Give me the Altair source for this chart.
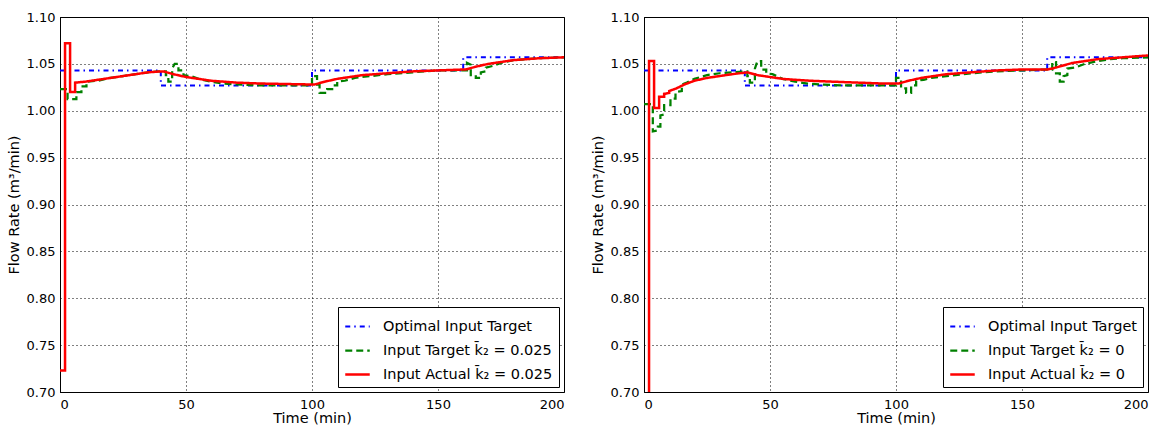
import altair as alt
import pandas as pd

# ---------------- data ----------------
OPT_T = [0, 40, 40, 100, 100, 160, 160, 200]
OPT_V = [1.043, 1.043, 1.027, 1.027, 1.043, 1.043, 1.057, 1.057]

# left panel (k2 = 0.025)
TGT_L_T = [0, 3, 3, 6.5, 6.5, 8.5, 8.5, 10.5, 10.5, 15, 20, 25, 30, 35, 40, 42, 42, 43, 43, 44.5, 44.5, 45.5, 47, 47, 49, 49,
           52, 55, 60, 65, 70, 80, 90, 100, 100, 102, 102, 103, 103, 106, 106, 108, 108, 110, 110, 113, 117, 120, 130, 140,
           150, 160, 161.5, 161.5, 163, 163, 165, 165, 167, 167, 169, 169, 172, 175, 180, 190, 200]
TGT_L_V = [1.023, 1.023, 1.0125, 1.0125, 1.020, 1.020, 1.026, 1.026, 1.031, 1.032, 1.035, 1.037, 1.039, 1.041, 1.042, 1.042,
           1.038, 1.038, 1.031, 1.031, 1.045, 1.050, 1.050, 1.043, 1.043, 1.038, 1.037, 1.034, 1.031, 1.029, 1.028, 1.027,
           1.027, 1.027, 1.037, 1.037, 1.028, 1.028, 1.019, 1.019, 1.023, 1.023, 1.027, 1.027, 1.031, 1.032, 1.035, 1.036,
           1.039, 1.041, 1.043, 1.043, 1.043, 1.051, 1.049, 1.038, 1.038, 1.035, 1.035, 1.041, 1.042, 1.046, 1.048, 1.051,
           1.054, 1.056, 1.057]
ACT_L_T = [0, 2, 2, 4, 4, 6, 6, 10, 15, 20, 25, 30, 35, 40, 41, 45, 50, 55, 60, 70, 80, 90, 100, 101, 105, 110, 115, 120,
           130, 140, 150, 160, 161, 165, 170, 175, 180, 190, 200]
ACT_L_V = [0.723, 0.723, 1.072, 1.072, 1.020, 1.020, 1.030, 1.031, 1.033, 1.035, 1.037, 1.039, 1.041, 1.042, 1.042, 1.039,
           1.036, 1.034, 1.032, 1.030, 1.029, 1.0285, 1.028, 1.028, 1.031, 1.034, 1.036, 1.038, 1.040, 1.042, 1.043, 1.044,
           1.044, 1.047, 1.050, 1.052, 1.054, 1.056, 1.057]

# right panel (k2 = 0)
TGT_R_T = [0, 3.5, 3.5, 5.5, 5.5, 6.5, 6.5, 8, 8, 10.5, 10.5, 12.5, 12.5, 15, 15, 17, 20, 25, 30, 35, 41, 41, 42, 42, 44,
           44, 45, 46.5, 46.5, 48.5, 48.5, 51, 55, 60, 65, 70, 80, 100, 100, 102, 102, 104, 104, 106, 106, 108, 108, 111,
           114, 120, 130, 140, 150, 160, 162, 162, 163.5, 163.5, 165, 165, 166.5, 166.5, 168, 168, 171, 175, 180, 185,
           190, 200]
TGT_R_V = [1.007, 1.007, 0.978, 0.979, 0.983, 0.983, 0.995, 0.996, 1.006, 1.006, 1.013, 1.013, 1.020, 1.021, 1.028, 1.030,
           1.034, 1.038, 1.040, 1.041, 1.042, 1.037, 1.037, 1.030, 1.030, 1.045, 1.053, 1.053, 1.044, 1.044, 1.040, 1.039,
           1.034, 1.031, 1.029, 1.028, 1.027, 1.027, 1.035, 1.035, 1.024, 1.024, 1.019, 1.019, 1.027, 1.027, 1.032, 1.033,
           1.035, 1.037, 1.040, 1.042, 1.043, 1.044, 1.044, 1.052, 1.052, 1.040, 1.040, 1.031, 1.031, 1.037, 1.038, 1.045,
           1.046, 1.050, 1.053, 1.055, 1.056, 1.057]
ACT_R_T = [0, 2, 2, 4, 4, 6, 6, 8, 8, 10, 10, 13, 16, 20, 25, 30, 35, 41, 45, 50, 55, 60, 66, 75, 85, 95, 101, 105, 110,
           115, 120, 130, 140, 150, 160, 162, 166, 170, 175, 180, 190, 200]
ACT_R_V = [0.60, 0.60, 1.053, 1.053, 1.003, 1.003, 1.015, 1.015, 1.018, 1.019, 1.021, 1.024, 1.028, 1.032, 1.035, 1.037,
           1.039, 1.041, 1.038, 1.036, 1.034, 1.033, 1.032, 1.031, 1.030, 1.029, 1.029, 1.032, 1.035, 1.037, 1.039, 1.041,
           1.043, 1.044, 1.044, 1.045, 1.048, 1.051, 1.053, 1.055, 1.057, 1.059]

KBAR = "k\u0304\u2082"
NAMES_L = ["Optimal Input Target", f"Input Target {KBAR} = 0.025", f"Input Actual {KBAR} = 0.025"]
NAMES_R = ["Optimal Input Target", f"Input Target {KBAR} = 0", f"Input Actual {KBAR} = 0"]
X_TICKS = [0, 50, 100, 150, 200]
Y_TICKS = [0.70, 0.75, 0.80, 0.85, 0.90, 0.95, 1.00, 1.05, 1.10]

COLORS = ["#0000ff", "#008000", "#ff0000"]
DASHES = [[5, 4, 1.5, 4], [7, 4], [1, 0]]
WIDTHS = [2, 2.5, 3]


def frame(names, series):
    rows = []
    for name, (ts, vs) in zip(names, series):
        for i, (t, v) in enumerate(zip(ts, vs)):
            rows.append({"t": t, "v": v, "series": name, "i": i})
    return pd.DataFrame(rows)


def panel(names, series):
    df = frame(names, series)
    layers = []
    for name in names:
        layers.append(
            alt.Chart(df)
            .transform_filter(alt.datum.series == name)
            .mark_line(clip=True)
            .encode(
                x=alt.X("t:Q", title="Time (min)",
                        scale=alt.Scale(domain=[0, 200], nice=False),
                        axis=alt.Axis(values=X_TICKS, format="d")),
                y=alt.Y("v:Q", title="Flow Rate  (m³/min)",
                        scale=alt.Scale(domain=[0.70, 1.10], nice=False, zero=False),
                        axis=alt.Axis(values=Y_TICKS, format=".2f")),
                color=alt.Color("series:N", scale=alt.Scale(domain=names, range=COLORS),
                                legend=alt.Legend(title=None)),
                strokeDash=alt.StrokeDash("series:N", scale=alt.Scale(domain=names, range=DASHES),
                                          legend=alt.Legend(title=None)),
                strokeWidth=alt.StrokeWidth("series:N", scale=alt.Scale(domain=names, range=WIDTHS),
                                            legend=None),
                order="i:Q",
            )
        )
    return alt.layer(*layers).properties(width=504, height=375)


left = panel(NAMES_L, [(OPT_T, OPT_V), (TGT_L_T, TGT_L_V), (ACT_L_T, ACT_L_V)])
right = panel(NAMES_R, [(OPT_T, OPT_V), (TGT_R_T, TGT_R_V), (ACT_R_T, ACT_R_V)])

chart = (
    alt.hconcat(left, right, spacing=24)
    .resolve_scale(color="independent", strokeDash="independent", strokeWidth="independent")
    .properties(padding={"left": 5, "top": 10, "right": 5, "bottom": 5}, background="white")
    .configure_view(stroke="black", strokeWidth=1)
    .configure_axis(
        labelFont="DejaVu Sans", titleFont="DejaVu Sans", labelFontSize=13, titleFontSize=14.5,
        titleFontWeight="normal", labelColor="black", titleColor="black",
        domainColor="black", domainWidth=1, ticks=False,
        gridColor="black", gridDash=[1, 3], gridOpacity=1, gridWidth=1,
    )
    .configure_axisY(labelPadding=5, titlePadding=5)
    .configure_axisX(labelPadding=6, titlePadding=0)
    .configure_legend(
        orient="bottom-right", offset=5, fillColor="white", strokeColor="black", padding=6,
        labelFont="DejaVu Sans", labelFontSize=14.5, labelColor="black", symbolType="stroke",
        symbolStrokeWidth=2.5, symbolSize=600, rowPadding=4, cornerRadius=0, labelLimit=400,
        labelOffset=12,
    )
)

chart.save("out.html", embed_options={"renderer": "svg", "actions": False})
